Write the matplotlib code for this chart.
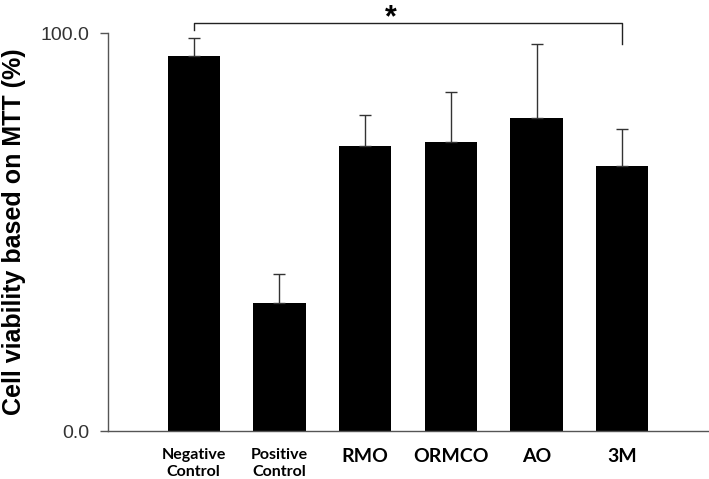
import matplotlib

matplotlib.use("Agg")
import matplotlib.pyplot as plt
import numpy as np

# values
groups = ["Negative\nControl", "Positive\nControl", "RMO", "ORMCO", "AO", "3M"]
viability = [94.4, 32.1, 71.7, 72.7, 78.6, 66.7]
sd_upper = [4.4, 7.5, 7.8, 12.5, 18.8, 9.3]
small_label = [True, True, False, False, False, False]

fig = plt.figure(figsize=(7.09, 4.79), dpi=100)
ax = fig.add_axes([108 / 709, 1 - 431 / 479, 600 / 709, (431 - 33.3) / 479])

x = np.arange(len(groups))
ax.bar(x, viability, width=0.61, color="black", zorder=2)
ax.errorbar(
    x, viability,
    yerr=[np.zeros(len(sd_upper)), sd_upper],
    fmt="none", ecolor="#333333", elinewidth=1.0, capsize=4.5, capthick=1.0,
    zorder=3,
)

ax.set_xlim(-1, len(groups))
ax.set_ylim(0, 100)
ax.set_yticks([0, 100])
ax.set_yticklabels(["0.0", "100.0"], fontsize=14, family="Liberation Sans",
                   color="#333333")
ax.tick_params(axis="y", direction="out", length=6, width=1, color="#555555",
               pad=7.5)
ax.tick_params(axis="x", length=0)
ax.set_xticks(x)
ax.set_xticklabels([])
for xi, name, small in zip(x, groups, small_label):
    ax.text(xi, -4.3, name, ha="center", va="top", family="Lato",
            fontweight="bold", fontsize=11.5 if small else 14,
            linespacing=1.25, clip_on=False)

for side in ("top", "right"):
    ax.spines[side].set_visible(False)
for side in ("left", "bottom"):
    ax.spines[side].set_color("#555555")
    ax.spines[side].set_linewidth(1.0)

fig.text(14 / 709, 1 - 232 / 479, "Cell viability based on MTT (%)",
         rotation=90, ha="center", va="center", family="Liberation Sans",
         fontweight="bold", fontsize=18)

# significance bracket between negative control and 3M
y_top = 102.7
ax.plot([0, 0, 5, 5], [100.8, y_top, y_top, 97.3], color="#222222", lw=1.0,
        clip_on=False, zorder=4)
fig.text(390.5 / 709, 1 - 26 / 479, "*", ha="center", va="baseline",
         fontsize=22, fontweight="bold", family="Liberation Sans")

fig.savefig("out.png", dpi=100)
